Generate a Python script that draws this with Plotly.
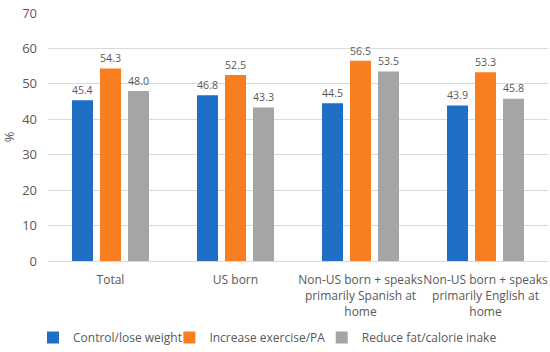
import plotly.graph_objects as go

categories = ["Total", "US born", "Non-US born + speaks<br>primarily Spanish at<br>home",
              "Non-US born + speaks<br>primarily English at<br>home"]
series_names = ["Control/lose weight", "Increase exercise/PA", "Reduce fat/calorie inake"]
control = [45.4, 46.8, 44.5, 43.9]
exercise = [54.3, 52.5, 56.5, 53.3]
reduce_fat = [48.0, 43.3, 53.5, 45.8]
colors = ["#1F6FC6", "#F77F22", "#A5A5A5"]
y_ticks = [0, 10, 20, 30, 40, 50, 60, 70]

legend_ids = ["legend", "legend2", "legend3"]
legend_x = [0.060, 0.308, 0.585]

fig = go.Figure()
for name, vals, col, lid in zip(series_names, [control, exercise, reduce_fat], colors, legend_ids):
    fig.add_trace(go.Bar(
        x=categories, y=vals, name=name, marker_color=col, marker_line_width=0,
        text=[f"{v:.1f}" for v in vals], textposition="outside",
        textfont=dict(size=13, color="#595959"), cliponaxis=False,
        legend=lid,
    ))

legend_style = dict(orientation="h", xref="container", yref="container",
                    xanchor="left", y=0.0, yanchor="bottom",
                    font=dict(size=12, color="#595959"), itemwidth=30,
                    bgcolor="rgba(0,0,0,0)")

fig.update_layout(
    width=550, height=352,
    margin=dict(l=48, r=2, t=13, b=91),
    paper_bgcolor="white", plot_bgcolor="white",
    barmode="group", bargap=0.328, bargroupgap=0.25,
    font=dict(family="Open Sans, Noto Sans, sans-serif", size=12, color="#595959"),
    showlegend=True,
    legend=dict(x=legend_x[0], **legend_style),
    legend2=dict(x=legend_x[1], **legend_style),
    legend3=dict(x=legend_x[2], **legend_style),
    yaxis=dict(range=[0, 70], tickvals=y_ticks, showgrid=True, gridcolor="#D9D9D9",
               gridwidth=1, zeroline=False, showline=False, automargin=False,
               ticklabelstandoff=10,
               title=dict(text="%", standoff=14, font=dict(size=13, color="#595959")),
               tickfont=dict(size=13, color="#595959")),
    xaxis=dict(showline=True, linecolor="#D9D9D9", linewidth=1, automargin=False,
               tickangle=0, ticklabelstandoff=8,
               tickfont=dict(size=12, color="#595959"), ticks=""),
)

fig.write_html("out.html", config={"displayModeBar": False},
               post_script="document.body.style.margin='0';")
